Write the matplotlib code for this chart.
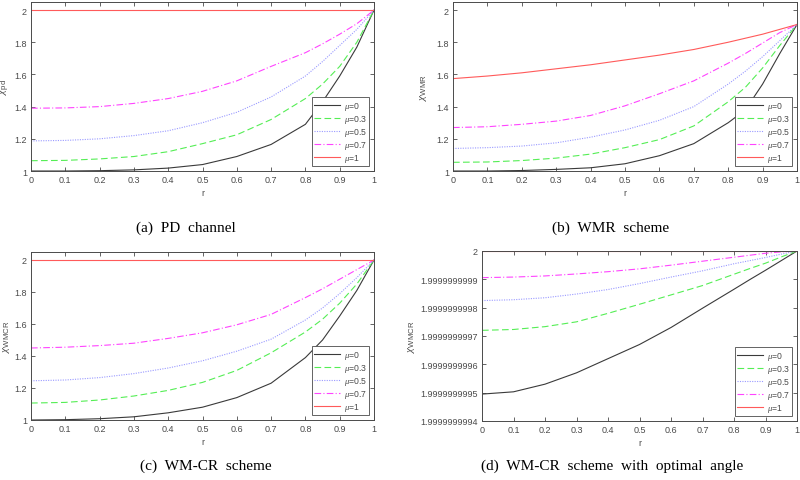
import numpy as np
import matplotlib
matplotlib.use('Agg')
import matplotlib.pyplot as plt

# sample points of r
r = [0, 0.1, 0.2, 0.3, 0.4, 0.5, 0.6, 0.7, 0.8, 0.85, 0.9, 0.95, 1.0]
mu_labels = ['0', '0.3', '0.5', '0.7', '1']

# (a) PD channel
pd_mu0 = [1.0, 1.0, 1.002, 1.007, 1.018, 1.04, 1.09, 1.165, 1.29, 1.43, 1.59, 1.77, 2.0]
pd_mu03 = [1.064, 1.066, 1.075, 1.09, 1.12, 1.17, 1.225, 1.32, 1.45, 1.54, 1.65, 1.80, 2.0]
pd_mu05 = [1.187, 1.19, 1.20, 1.22, 1.25, 1.30, 1.365, 1.46, 1.59, 1.68, 1.78, 1.88, 2.0]
pd_mu07 = [1.39, 1.392, 1.40, 1.42, 1.45, 1.495, 1.56, 1.65, 1.735, 1.79, 1.85, 1.915, 2.0]
pd_mu1 = [2.0] * 13

# (b) WMR scheme
wmr_mu0 = [1.0, 1.0, 1.003, 1.01, 1.02, 1.045, 1.095, 1.17, 1.30, 1.38, 1.54, 1.73, 1.91]
wmr_mu03 = [1.054, 1.056, 1.065, 1.08, 1.105, 1.145, 1.195, 1.28, 1.43, 1.52, 1.64, 1.78, 1.91]
wmr_mu05 = [1.14, 1.145, 1.155, 1.175, 1.21, 1.255, 1.315, 1.40, 1.54, 1.62, 1.71, 1.81, 1.91]
wmr_mu07 = [1.27, 1.275, 1.29, 1.31, 1.345, 1.405, 1.48, 1.56, 1.67, 1.73, 1.795, 1.86, 1.91]
wmr_mu1 = [1.574, 1.59, 1.61, 1.635, 1.66, 1.69, 1.72, 1.755, 1.80, 1.825, 1.85, 1.88, 1.91]

# (c) WM-CR scheme
cr_mu0 = [1.0, 1.002, 1.008, 1.02, 1.045, 1.08, 1.14, 1.23, 1.39, 1.50, 1.65, 1.81, 2.0]
cr_mu03 = [1.106, 1.11, 1.125, 1.15, 1.185, 1.235, 1.31, 1.42, 1.55, 1.63, 1.73, 1.85, 2.0]
cr_mu05 = [1.245, 1.25, 1.265, 1.29, 1.325, 1.37, 1.43, 1.505, 1.625, 1.70, 1.79, 1.89, 2.0]
cr_mu07 = [1.45, 1.455, 1.465, 1.48, 1.51, 1.545, 1.595, 1.66, 1.765, 1.82, 1.88, 1.94, 2.0]
cr_mu1 = [2.0] * 13

# (d) optimal angle: distance below 2, in units of 1e-10
opt_gap_mu0 = [5.05, 4.97, 4.70, 4.30, 3.80, 3.30, 2.70, 2.02, 1.35, 1.01, 0.68, 0.34, 0.0]
opt_gap_mu03 = [2.80, 2.77, 2.67, 2.50, 2.20, 1.88, 1.55, 1.22, 0.82, 0.62, 0.43, 0.21, 0.0]
opt_gap_mu05 = [1.75, 1.72, 1.65, 1.52, 1.36, 1.15, 0.92, 0.70, 0.45, 0.34, 0.23, 0.11, 0.0]
opt_gap_mu07 = [0.94, 0.92, 0.88, 0.81, 0.73, 0.63, 0.50, 0.36, 0.22, 0.15, 0.08, 0.03, 0.0]
opt_gap_mu1 = [0.0] * 13

x_ticks = [0, 0.1, 0.2, 0.3, 0.4, 0.5, 0.6, 0.7, 0.8, 0.9, 1]
x_ticklabels = ['0', '0.1', '0.2', '0.3', '0.4', '0.5', '0.6', '0.7', '0.8', '0.9', '1']
y_ticks = [1, 1.2, 1.4, 1.6, 1.8, 2]
y_ticklabels = ['1', '1.2', '1.4', '1.6', '1.8', '2']
d_ticklabels = ['1.9999999994', '1.9999999995', '1.9999999996', '1.9999999997',
                '1.9999999998', '1.9999999999', '2']

styles = [
    dict(color='#3a3a3a', ls='-'),
    dict(color='#55ee55', ls=(0, (6, 3))),
    dict(color='#9a9aff', ls=(0, (1, 1.2))),
    dict(color='#ff44ff', ls=(0, (6, 2, 1, 2))),
    dict(color='#ff5a5a', ls='-'),
]

plt.rcParams['font.family'] = ['Liberation Sans', 'DejaVu Sans']
plt.rcParams['mathtext.fontset'] = 'custom'
plt.rcParams['mathtext.it'] = 'Liberation Serif:italic'
plt.rcParams['mathtext.rm'] = 'Liberation Sans'

fig = plt.figure(figsize=(8, 4.81), dpi=100)
W, H = 800.0, 481.0


def make_axes(left, right, top, bottom):
    return fig.add_axes([left / W, 1 - bottom / H, (right - left) / W, (bottom - top) / H])


def style_axes(ax, ylabel, label_x):
    for s in ax.spines.values():
        s.set_color('#4a4a4a')
        s.set_linewidth(0.7)
    ax.tick_params(direction='in', top=True, right=True, length=3, width=0.6,
                   labelsize=6.5, colors='#4a4a4a', pad=3)
    ax.set_xlim(0, 1)
    ax.set_xticks(x_ticks)
    ax.set_xticklabels(x_ticklabels)
    ax.set_xlabel('r', fontsize=6.5, color='#4a4a4a', labelpad=3)
    ax.set_ylabel(ylabel, fontsize=8, color='#4a4a4a')
    ax.yaxis.set_label_coords(label_x, 0.5)


def add_legend(ax, handles):
    leg = ax.legend(handles, [r'$\mu$=' + m for m in mu_labels], loc='lower right',
                    fontsize=6.2, frameon=True, fancybox=False, framealpha=1,
                    edgecolor='#4a4a4a', handlelength=3.0, handletextpad=0.4,
                    borderpad=0.25, labelspacing=0.12, borderaxespad=0.6)
    leg.get_frame().set_linewidth(0.6)
    for t in leg.get_texts():
        t.set_color('#4a4a4a')


def plot_panel(ax, series):
    hs = []
    for y, st in zip(series, styles):
        h, = ax.plot(r, y, lw=0.8, **st)
        hs.append(h)
    return hs


# (a)
ax_a = make_axes(31, 374, 3, 172)
hs = plot_panel(ax_a, [pd_mu0, pd_mu03, pd_mu05, pd_mu07, pd_mu1])
ax_a.set_ylim(1, 2.05)
ax_a.set_yticks(y_ticks)
ax_a.set_yticklabels(y_ticklabels)
style_axes(ax_a, r'$\chi_{\mathrm{pd}}$', -0.055)
add_legend(ax_a, hs)

# (b)
ax_b = make_axes(453, 797, 3, 172)
hs = plot_panel(ax_b, [wmr_mu0, wmr_mu03, wmr_mu05, wmr_mu07, wmr_mu1])
ax_b.set_ylim(1, 2.05)
ax_b.set_yticks(y_ticks)
ax_b.set_yticklabels(y_ticklabels)
style_axes(ax_b, r'$\chi_{\mathrm{WMR}}$', -0.07)
add_legend(ax_b, hs)

# (c)
ax_c = make_axes(31, 374, 253, 421)
hs = plot_panel(ax_c, [cr_mu0, cr_mu03, cr_mu05, cr_mu07, cr_mu1])
ax_c.set_ylim(1, 2.05)
ax_c.set_yticks(y_ticks)
ax_c.set_yticklabels(y_ticklabels)
style_axes(ax_c, r'$\chi_{\mathrm{WMCR}}$', -0.055)
add_legend(ax_c, hs)

# (d)
ax_d = make_axes(482, 797, 252, 422)
d_series = [[2.0 - g * 1e-10 for g in gap]
            for gap in [opt_gap_mu0, opt_gap_mu03, opt_gap_mu05, opt_gap_mu07, opt_gap_mu1]]
hs = plot_panel(ax_d, d_series)
ax_d.set_ylim(2.0 - 6e-10, 2.0)
ax_d.set_yticks([2.0 - k * 1e-10 for k in range(6, -1, -1)])
ax_d.set_yticklabels(d_ticklabels)
style_axes(ax_d, r'$\chi_{\mathrm{WMCR}}$', -0.205)
add_legend(ax_d, hs)

cap = dict(fontsize=11, family=['Liberation Serif', 'DejaVu Serif'], ha='center', va='center')
fig.text(186 / W, 1 - 228 / H, '(a)  PD  channel', **cap)
fig.text(611 / W, 1 - 228 / H, '(b)  WMR  scheme', **cap)
fig.text(206 / W, 1 - 466 / H, '(c)  WM-CR  scheme', **cap)
fig.text(612 / W, 1 - 466 / H, '(d)  WM-CR  scheme  with  optimal  angle', **cap)

fig.savefig('out.png', dpi=100)
